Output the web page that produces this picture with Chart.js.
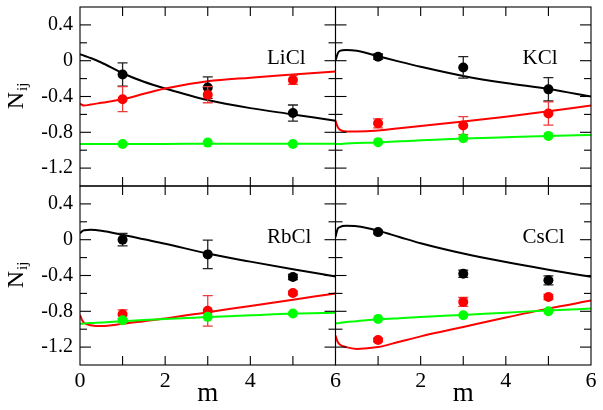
<!DOCTYPE html>
<html>
<head>
<meta charset="utf-8">
<script src="https://cdn.jsdelivr.net/npm/chart.js@4.4.0/dist/chart.umd.min.js"></script>
<style>
  html, body { margin: 0; padding: 0; background: #fff; }
</style>
</head>
<body>
<canvas id="chart" width="603" height="410"></canvas>
<script>
// m grid for the model curves, and m of the simulation points
const curveM = [0, 0.05, 0.1, 0.25, 0.5, 1, 1.5, 2, 3, 4, 5, 6];
const pointM = [1, 3, 5];

// axis ticks
const xTicks = [0, 2, 4, 6];
const xTickLabelsLeft = ["0", "2", "4", "6"];
const xTickLabelsRight = ["", "2", "4", "6"];
const xTickMarks = [1, 2, 3, 4, 5];
const yTicks = [0.4, 0, -0.4, -0.8, -1.2];
const yTickLabels = ["0.4", "0", "-0.4", "-0.8", "-1.2"];
const yMinorTicks = [0.2, -0.2, -0.6, -1.0];

// LiCl
const liclBlackCurve = [0.07, 0.065, 0.055, 0.03, -0.02, -0.14, -0.235, -0.31, -0.44, -0.53, -0.6, -0.67];
const liclRedCurve = [-0.48, -0.495, -0.5, -0.49, -0.47, -0.43, -0.37, -0.31, -0.23, -0.19, -0.155, -0.12];
const liclGreenCurve = [-0.93, -0.93, -0.93, -0.93, -0.93, -0.93, -0.93, -0.93, -0.928, -0.928, -0.928, -0.928];
const liclBlackPts = [-0.155, -0.3, -0.585];
const liclBlackErr = [0.13, 0.12, 0.09];
const liclRedPts = [-0.43, -0.38, -0.215];
const liclRedErr = [0.14, 0.09, 0.05];
const liclGreenPts = [-0.93, -0.915, -0.93];

// KCl
const kclBlackCurve = [0.0, 0.08, 0.11, 0.12, 0.11, 0.05, -0.01, -0.067, -0.17, -0.25, -0.315, -0.4];
const kclRedCurve = [-0.67, -0.74, -0.77, -0.79, -0.79, -0.78, -0.755, -0.73, -0.68, -0.625, -0.565, -0.5];
const kclGreenCurve = [-0.93, -0.93, -0.93, -0.925, -0.92, -0.915, -0.9, -0.89, -0.87, -0.855, -0.84, -0.83];
const kclBlackPts = [0.045, -0.075, -0.32];
const kclBlackErr = [0.03, 0.12, 0.13];
const kclRedPts = [-0.7, -0.725, -0.59];
const kclRedErr = [0.05, 0.1, 0.13];
const kclGreenPts = [-0.91, -0.867, -0.84];

// RbCl
const rbclBlackCurve = [0.07, 0.095, 0.105, 0.11, 0.1, 0.055, 0.005, -0.045, -0.155, -0.245, -0.33, -0.41];
const rbclRedCurve = [-0.84, -0.9, -0.93, -0.955, -0.965, -0.94, -0.91, -0.88, -0.81, -0.74, -0.67, -0.6];
const rbclGreenCurve = [-0.94, -0.94, -0.935, -0.93, -0.925, -0.91, -0.897, -0.885, -0.865, -0.845, -0.825, -0.815];
const rbclBlackPts = [0.0, -0.164, -0.417];
const rbclBlackErr = [0.07, 0.16, 0.03];
const rbclRedPts = [-0.833, -0.795, -0.595];
const rbclRedErr = [0.05, 0.17, 0.02];
const rbclGreenPts = [-0.9, -0.862, -0.825];

// CsCl
const csclBlackCurve = [0.03, 0.12, 0.14, 0.155, 0.15, 0.1, 0.03, -0.04, -0.155, -0.25, -0.335, -0.415];
const csclRedCurve = [-1.07, -1.14, -1.17, -1.2, -1.22, -1.2, -1.14, -1.08, -0.975, -0.87, -0.77, -0.68];
const csclGreenCurve = [-0.935, -0.933, -0.93, -0.92, -0.91, -0.89, -0.877, -0.865, -0.84, -0.815, -0.79, -0.77];
const csclBlackPts = [0.085, -0.38, -0.454];
const csclBlackErr = [0.02, 0.04, 0.05];
const csclRedPts = [-1.12, -0.695, -0.64];
const csclRedErr = [0.02, 0.05, 0.03];
const csclGreenPts = [-0.885, -0.845, -0.8];

const BLACK = "#000000";
const RED = "#ff0000";
const GREEN = "#00ff00";
const SERIF = '"Liberation Serif"';

const panels = [
  { name: "LiCl", x: "xL", y: "yT" },
  { name: "KCl", x: "xR", y: "yT" },
  { name: "RbCl", x: "xL", y: "yB" },
  { name: "CsCl", x: "xR", y: "yB" },
];

function curve(vals, color, xId, yId) {
  return {
    data: curveM.map((m, i) => ({ x: m, y: vals[i] })),
    showLine: true,
    borderColor: color,
    borderWidth: 2,
    pointRadius: 0,
    cubicInterpolationMode: "monotone",
    xAxisID: xId,
    yAxisID: yId,
    order: 2,
  };
}

function points(vals, errs, color, errColor, xId, yId) {
  return {
    data: pointM.map((m, i) => ({ x: m, y: vals[i] })),
    showLine: false,
    pointRadius: 5,
    pointBackgroundColor: color,
    pointBorderWidth: 0,
    errors: errs,
    errorColor: errColor,
    xAxisID: xId,
    yAxisID: yId,
    order: 1,
  };
}

function panelDatasets(black, red, green, bPts, bErr, rPts, rErr, gPts, xId, yId) {
  return [
    curve(green, GREEN, xId, yId),
    curve(red, RED, xId, yId),
    curve(black, BLACK, xId, yId),
    points(gPts, null, GREEN, GREEN, xId, yId),
    points(rPts, rErr, RED, "#ec3b3b", xId, yId),
    points(bPts, bErr, BLACK, "#222222", xId, yId),
  ];
}

const datasets = [
  ...panelDatasets(liclBlackCurve, liclRedCurve, liclGreenCurve, liclBlackPts, liclBlackErr, liclRedPts, liclRedErr, liclGreenPts, "xL", "yT"),
  ...panelDatasets(kclBlackCurve, kclRedCurve, kclGreenCurve, kclBlackPts, kclBlackErr, kclRedPts, kclRedErr, kclGreenPts, "xR", "yT"),
  ...panelDatasets(rbclBlackCurve, rbclRedCurve, rbclGreenCurve, rbclBlackPts, rbclBlackErr, rbclRedPts, rbclRedErr, rbclGreenPts, "xL", "yB"),
  ...panelDatasets(csclBlackCurve, csclRedCurve, csclGreenCurve, csclBlackPts, csclBlackErr, csclRedPts, csclRedErr, csclGreenPts, "xR", "yB"),
];

// error bars drawn just before their points
const errorBars = {
  id: "errorBars",
  beforeDatasetDraw(chart, args) {
    const ds = chart.data.datasets[args.index];
    if (!ds.errors) return;
    const ys = chart.scales[ds.yAxisID];
    const ctx = chart.ctx;
    ctx.save();
    ctx.strokeStyle = ds.errorColor;
    ctx.lineWidth = 1.3;
    ds.data.forEach((p, i) => {
      const e = ds.errors[i];
      const x = args.meta.data[i].x;
      const y1 = ys.getPixelForValue(p.y + e);
      const y2 = ys.getPixelForValue(p.y - e);
      ctx.beginPath();
      ctx.moveTo(x, y1); ctx.lineTo(x, y2);
      ctx.moveTo(x - 5, y1); ctx.lineTo(x + 5, y1);
      ctx.moveTo(x - 5, y2); ctx.lineTo(x + 5, y2);
      ctx.stroke();
    });
    ctx.restore();
  },
};

// frames, inward ticks, panel names and the N_ij titles
const panelFrames = {
  id: "panelFrames",
  afterDatasetsDraw(chart) {
    const ctx = chart.ctx;
    ctx.save();
    ctx.strokeStyle = "#000";
    ctx.lineWidth = 1.1;
    const seg = (x1, y1, x2, y2) => {
      ctx.beginPath(); ctx.moveTo(x1, y1); ctx.lineTo(x2, y2); ctx.stroke();
    };
    panels.forEach((p) => {
      const xs = chart.scales[p.x];
      const ys = chart.scales[p.y];
      ctx.strokeRect(xs.left, ys.top, xs.right - xs.left, ys.bottom - ys.top);
      xTickMarks.forEach((v) => {
        const px = xs.getPixelForValue(v);
        seg(px, ys.top, px, ys.top + 9);
        seg(px, ys.bottom, px, ys.bottom - 9);
      });
      yTicks.forEach((v) => {
        const py = ys.getPixelForValue(v);
        seg(xs.left, py, xs.left + 11, py);
        seg(xs.right, py, xs.right - 11, py);
      });
      yMinorTicks.forEach((v) => {
        const py = ys.getPixelForValue(v);
        seg(xs.left, py, xs.left + 7, py);
        seg(xs.right, py, xs.right - 7, py);
      });
      ctx.fillStyle = "#000";
      ctx.font = "21px " + SERIF;
      ctx.textAlign = "left";
      ctx.textBaseline = "alphabetic";
      ctx.fillText(p.name, xs.left + 187, ys.top + 57);
    });
    // y titles
    ["yT", "yB"].forEach((id) => {
      const ys = chart.scales[id];
      const mid = (ys.top + ys.bottom) / 2;
      ctx.save();
      ctx.translate(23, mid);
      ctx.rotate(-Math.PI / 2);
      ctx.fillStyle = "#000";
      ctx.textAlign = "left";
      ctx.textBaseline = "alphabetic";
      ctx.font = "24px " + SERIF;
      const wN = ctx.measureText("N").width;
      ctx.font = "15px " + SERIF;
      const wij = ctx.measureText("ij").width;
      const start = -(wN + wij) / 2;
      ctx.font = "24px " + SERIF;
      ctx.fillText("N", start, 0);
      ctx.font = "15px " + SERIF;
      ctx.fillText("ij", start + wN + 1, 4);
      ctx.restore();
    });
    ctx.restore();
  },
};

function xScale(labels) {
  return {
    type: "linear",
    position: "bottom",
    stack: "x",
    min: 0,
    max: 6,
    grid: { display: false, drawTicks: false },
    border: { display: false },
    afterBuildTicks: (s) => { s.ticks = xTicks.map((v) => ({ value: v })); },
    afterFit: (s) => { s.height = 45; s.paddingLeft = 0; s.paddingRight = 0; },
    ticks: {
      autoSkip: false,
      maxRotation: 0,
      padding: 3,
      color: "#000",
      font: { family: SERIF, size: 22 },
      callback: (v, i) => labels[i],
    },
    title: {
      display: true,
      text: "m",
      color: "#000",
      padding: 0,
      font: { family: SERIF, size: 27 },
    },
  };
}

function yScale() {
  return {
    type: "linear",
    position: "left",
    stack: "y",
    min: -1.4,
    max: 0.6,
    grid: { display: false, drawTicks: false },
    border: { display: false },
    afterBuildTicks: (s) => { s.ticks = yTicks.map((v) => ({ value: v })); },
    afterFit: (s) => { s.width = 80; s.paddingTop = 0; s.paddingBottom = 0; },
    ticks: {
      autoSkip: false,
      padding: 7,
      color: "#000",
      font: { family: SERIF, size: 20 },
      callback: (v, i) => yTickLabels[i],
    },
  };
}

// left stacked axes are laid out last-first, so the bottom panel's axis comes first here
new Chart(document.getElementById("chart"), {
  type: "scatter",
  data: { datasets },
  options: {
    responsive: false,
    animation: false,
    events: [],
    layout: { autoPadding: false, padding: { top: 7, right: 12, left: 0, bottom: 0 } },
    plugins: { legend: { display: false }, tooltip: { enabled: false } },
    scales: {
      xL: xScale(xTickLabelsLeft),
      xR: xScale(xTickLabelsRight),
      yB: yScale(),
      yT: yScale(),
    },
  },
  plugins: [errorBars, panelFrames],
});
</script>
</body>
</html>
